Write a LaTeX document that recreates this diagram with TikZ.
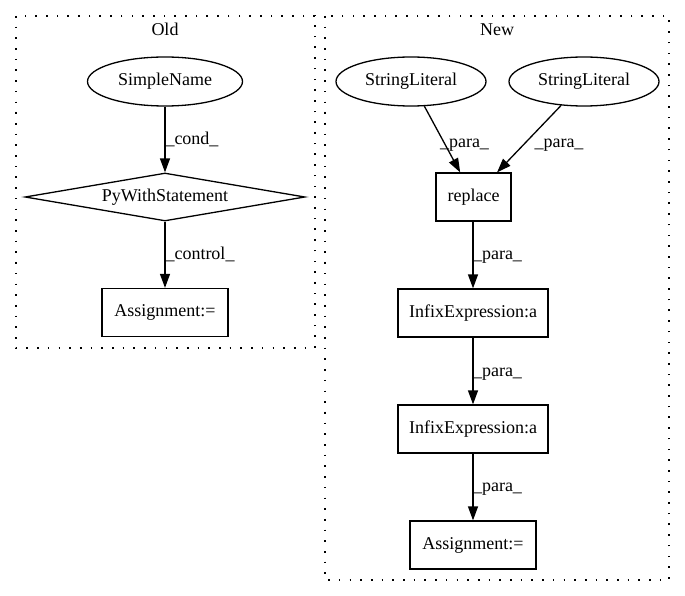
\documentclass[tikz,border=0pt]{standalone}
\usepackage{fontspec}
\setmainfont{Liberation Serif}
\usetikzlibrary{shapes.geometric,arrows.meta}
\begin{document}
\begin{tikzpicture}[x=1pt,y=-1pt,
  every node/.style={font=\fontsize{18}{21}\selectfont, inner sep=0pt, text height=12.6pt, text depth=4pt},
  ell/.style={draw, ellipse, line width=1.3pt, minimum height=49pt},
  box/.style={draw, rectangle, line width=1.3pt, minimum height=48pt},
  dia/.style={draw, diamond, line width=1.3pt, aspect=5.83, minimum width=280pt, minimum height=48pt},
  clus/.style={line width=1.6pt, dash pattern=on 1.6pt off 9.1pt},
  edge/.style={line width=1.3pt, -{Triangle[length=14pt,width=10pt]}},
  lbl/.style={anchor=center}
]
\useasboundingbox (0,0) rectangle (685,596);
% clusters
\draw[clus] (16,16) rectangle (315,348);
\draw[clus] (325,16) rectangle (669,580);
\node (oldlbl) at (165,31) {Old};
\node (newlbl) at (497,31) {New};
% old
\node[ell, minimum width=155pt] (sn) at (165,81.5) {SimpleName};
\node[dia] (pw) at (165,197) {PyWithStatement};
\node[box, minimum width=126pt] (oa) at (165,312.5) {Assignment:=};
\draw[edge] (sn) -- (pw) node[lbl] at (192,140) {\_cond\_};
\draw[edge] (pw) -- (oa) node[lbl] at (200,255) {\_control\_};
% new
\node[ell, minimum width=150pt] (sl1) at (411,81.5) {StringLiteral};
\node[ell, minimum width=150pt] (sl2) at (584,81.5) {StringLiteral};
\node[box, minimum width=75pt] (rep) at (473.5,197) {replace};
\node[box, minimum width=150pt] (in1) at (473,313) {InfixExpression:a};
\node[box, minimum width=150pt] (in2) at (473,429) {InfixExpression:a};
\node[box, minimum width=126pt] (na) at (473,545) {Assignment:=};
\draw[edge] (sl1) -- (rep) node[lbl] at (464.5,143) {\_para\_};
\draw[edge] (sl2) -- (rep) node[lbl] at (559,143) {\_para\_};
\draw[edge] (rep.south -| in1.north) -- (in1) node[lbl] at (497.5,255) {\_para\_};
\draw[edge] (in1) -- (in2) node[lbl] at (497.5,372) {\_para\_};
\draw[edge] (in2) -- (na) node[lbl] at (497.5,487) {\_para\_};
\end{tikzpicture}
\end{document}
